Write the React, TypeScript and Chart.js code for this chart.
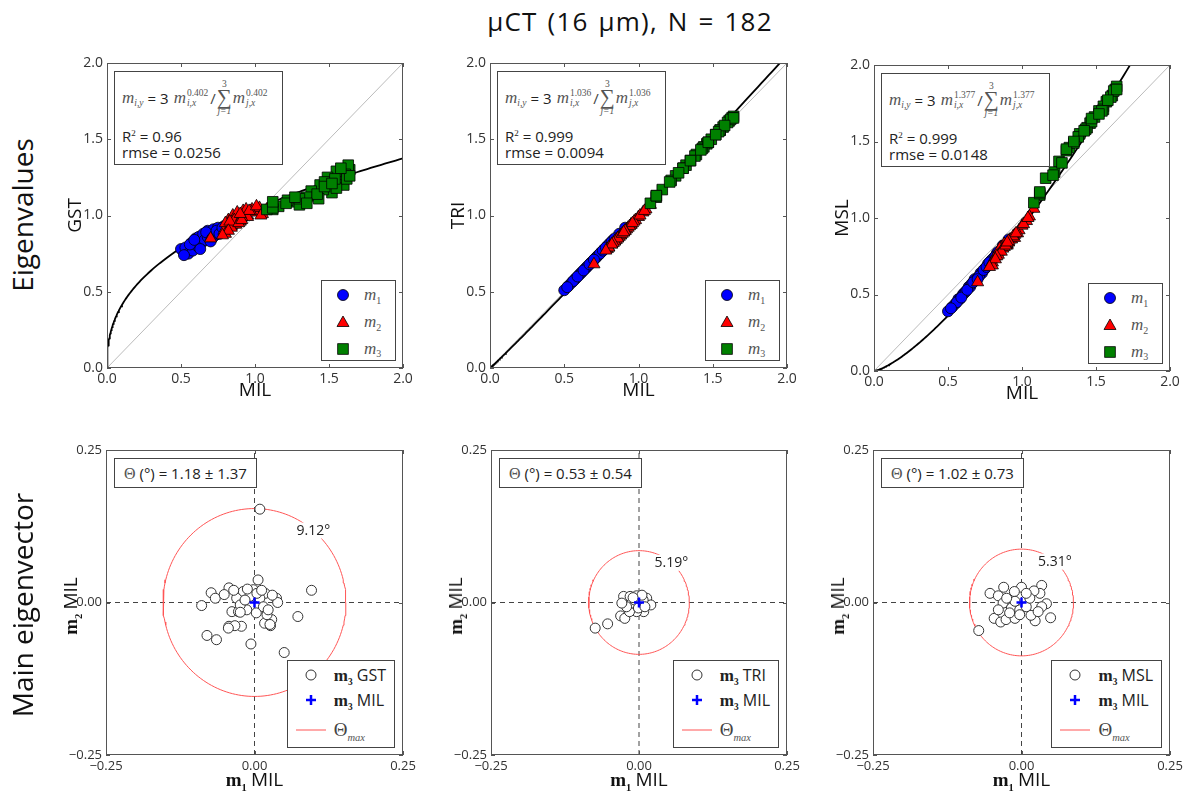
import React, { useEffect, useRef } from "react";
import { Chart, registerables } from "chart.js";
Chart.register(...registerables);

const SANS = '"Open Sans", "DejaVu Sans", sans-serif';
const SERIF = '"Liberation Serif", "DejaVu Serif", serif';

// ---------------- DATA ----------------
const TITLE = "μCT (16 μm), N = 182";
const ROW_LABELS = ["Eigenvalues", "Main eigenvector"];
const METHODS = ["GST", "TRI", "MSL"];
const REFERENCE = "MIL";
const EIG_TICKS = [0, 0.5, 1.0, 1.5, 2.0];
const VEC_TICKS = [-0.25, 0, 0.25];

// normalized MIL eigenvalues (x) of each sample
const MIL_M1 = [0.50,0.53,0.55,0.57,0.58,0.60,0.61,0.62,0.64,0.65,0.66,0.68,0.68,0.70,0.72,0.73,0.75,0.77,0.79,0.81,0.83,0.80,0.87,0.91,0.56,0.59,0.63,0.67,0.71,0.74,0.76,0.78,0.82,0.84,0.52,0.70];
const MIL_M2 = [0.86,0.84,0.88,0.82,0.90,0.85,0.79,0.92,0.87,0.80,0.95,0.88,0.70,0.98,0.90,0.84,1.00,0.93,0.86,1.03,0.95,1.08,1.05,0.97,0.80,0.94,0.83,0.91,0.82,0.96,0.89,1.01,0.91,1.04,0.90,0.78];
const MIL_M3 = [1.64,1.63,1.57,1.61,1.52,1.55,1.60,1.46,1.49,1.55,1.39,1.44,1.62,1.32,1.38,1.43,1.25,1.30,1.35,1.16,1.22,1.12,1.08,1.12,1.64,1.47,1.54,1.42,1.47,1.30,1.35,1.21,1.27,1.12,1.58,1.52];

const GST_M1 = [0.78,0.79,0.75,0.82,0.77,0.85,0.80,0.86,0.82,0.88,0.84,0.90,0.86,0.88,0.91,0.87,0.92,0.89,0.93,0.91,0.94,0.93,0.95,0.97,0.81,0.84,0.78,0.89,0.85,0.90,0.88,0.92,0.95,0.94,0.74,0.83];
const GST_M2 = [0.95,0.93,0.99,0.97,0.96,1.00,0.90,1.03,0.94,0.95,1.00,1.02,0.85,1.04,0.98,0.92,1.02,1.01,0.97,1.05,0.99,1.04,1.01,1.03,0.88,1.04,0.96,0.99,0.90,1.03,0.95,1.06,0.97,1.00,1.01,0.87];
const GST_M3 = [1.30,1.33,1.22,1.27,1.15,1.29,1.20,1.17,1.25,1.18,1.13,1.20,1.24,1.10,1.16,1.11,1.09,1.07,1.12,1.06,1.10,1.04,1.04,1.05,1.26,1.22,1.24,1.14,1.19,1.11,1.08,1.08,1.12,1.09,1.31,1.21];

const TRI_M1 = [0.51,0.54,0.56,0.58,0.59,0.61,0.62,0.63,0.65,0.66,0.67,0.69,0.69,0.71,0.73,0.74,0.76,0.78,0.80,0.82,0.84,0.81,0.88,0.92,0.57,0.60,0.64,0.68,0.72,0.75,0.77,0.79,0.83,0.85,0.53,0.71];
const TRI_M2 = [0.85,0.83,0.87,0.81,0.89,0.84,0.78,0.91,0.86,0.79,0.94,0.87,0.68,0.97,0.89,0.83,0.99,0.92,0.85,1.02,0.94,1.07,1.04,0.96,0.79,0.93,0.82,0.90,0.81,0.95,0.88,1.00,0.90,1.03,0.89,0.77];
const TRI_M3 = [1.65,1.64,1.58,1.62,1.53,1.56,1.61,1.47,1.50,1.56,1.40,1.45,1.63,1.33,1.39,1.44,1.26,1.31,1.36,1.17,1.23,1.12,1.08,1.13,1.64,1.48,1.55,1.43,1.48,1.31,1.36,1.22,1.28,1.13,1.59,1.53];

const MSL_M1 = [0.39,0.42,0.44,0.47,0.47,0.50,0.51,0.52,0.55,0.55,0.57,0.59,0.60,0.61,0.64,0.64,0.67,0.70,0.72,0.74,0.77,0.73,0.82,0.86,0.45,0.48,0.53,0.58,0.62,0.66,0.68,0.71,0.75,0.78,0.41,0.60];
const MSL_M2 = [0.81,0.78,0.83,0.75,0.82,0.80,0.70,0.86,0.80,0.71,0.89,0.81,0.58,0.92,0.83,0.76,0.95,0.86,0.78,0.98,0.87,1.06,1.01,0.90,0.69,0.88,0.75,0.84,0.73,0.90,0.82,0.96,0.85,1.00,0.84,0.68];
const MSL_M3 = [1.86,1.84,1.76,1.80,1.70,1.73,1.79,1.62,1.66,1.71,1.55,1.59,1.83,1.46,1.53,1.58,1.37,1.44,1.49,1.26,1.30,1.15,1.10,1.16,1.84,1.63,1.70,1.57,1.65,1.45,1.50,1.28,1.36,1.17,1.77,1.68];

// fitted power law  m_y = c * m_x^p
const FIT_EXPONENTS = [0.402, 1.036, 1.377];
const FIT_EXPONENT_LABELS = ["0.402", "1.036", "1.377"];
const FIT_SCALE = [1.04, 1.0, 0.94];
const R2 = ["0.96", "0.999", "0.999"];
const RMSE = ["0.0256", "0.0094", "0.0148"];

// main eigenvector m3 components in the MIL frame
const GST_VEC_X = [0.009,0.006,0.096,-0.043,-0.073,-0.066,-0.089,-0.051,0.073,-0.080,-0.064,-0.006,0.050,-0.043,-0.022,-0.033,0.017,0.027,0.029,0.037,0.039,0.018,-0.002,-0.019,-0.030,-0.038,-0.027,-0.013,0.003,0.021,-0.008,0.009,-0.024,0.015,0.023,0.026,-0.024,-0.044,-0.012,0.004,0.012,-0.035,0.030,-0.016];
const GST_VEC_Y = [0.153,0.037,0.020,0.024,0.016,0.007,-0.005,0.013,-0.023,-0.054,-0.061,-0.068,-0.082,-0.039,-0.039,-0.038,-0.034,-0.038,-0.028,0.007,0.000,0.015,0.021,0.018,0.007,-0.015,-0.015,-0.012,-0.017,-0.020,0.010,0.007,-0.004,-0.007,-0.012,-0.036,-0.016,-0.042,0.022,0.015,0.020,0.020,0.012,0.004];
const TRI_VEC_X = [-0.074,-0.053,-0.031,-0.024,-0.026,-0.015,-0.004,0.013,0.020,0.008,-0.004,-0.016,-0.012,0.002,-0.021,0.007,-0.007,-0.029,-0.001,0.010,0.005,-0.010];
const TRI_VEC_Y = [-0.042,-0.035,-0.022,-0.026,0.010,0.010,0.011,0.007,-0.004,-0.015,-0.015,-0.015,-0.001,-0.001,-0.007,0.004,0.004,-0.001,-0.009,-0.007,0.012,0.008];
const MSL_VEC_X = [-0.072,0.049,-0.053,-0.039,-0.030,0.000,0.034,0.031,0.021,-0.012,-0.046,-0.035,-0.026,-0.011,0.023,0.016,0.042,0.034,-0.031,-0.017,-0.003,0.008,0.014,-0.011,-0.025,0.008,0.028,-0.020,-0.003,-0.039];
const MSL_VEC_Y = [-0.046,-0.025,0.015,0.011,0.025,0.025,0.028,0.015,0.019,0.018,-0.026,-0.032,-0.028,-0.026,-0.030,-0.021,-0.002,-0.007,-0.001,-0.009,-0.012,-0.007,0.007,0.002,0.007,0.015,-0.015,-0.017,-0.020,-0.012];

const THETA_MEAN = ["1.18", "0.53", "1.02"];
const THETA_SD = ["1.37", "0.54", "0.73"];
const THETA_MAX_LABELS = ["9.12°", "5.19°", "5.31°"];
const THETA_MAX_RADIUS = [0.154, 0.085, 0.0875];

// ---------------- tables built from the data ----------------
const EIG_X = [MIL_M1, MIL_M2, MIL_M3];
const EIG_Y = [
  [GST_M1, GST_M2, GST_M3],
  [TRI_M1, TRI_M2, TRI_M3],
  [MSL_M1, MSL_M2, MSL_M3],
];
const VEC_X = [GST_VEC_X, TRI_VEC_X, MSL_VEC_X];
const VEC_Y = [GST_VEC_Y, TRI_VEC_Y, MSL_VEC_Y];

// ---------------- layout ----------------
type Area = { left: number; top: number; right: number; bottom: number };
const PAD = { l: 62, r: 16, t: 14, b: 40 };
const TOP_AREAS: Area[] = [
  { left: 107, top: 63, right: 403, bottom: 368 },
  { left: 490, top: 63, right: 787, bottom: 368 },
  { left: 874, top: 65, right: 1170, bottom: 371 },
];
const BOT_AREAS: Area[] = [
  { left: 106, top: 450, right: 403, bottom: 755 },
  { left: 491, top: 450, right: 787, bottom: 755 },
  { left: 873, top: 450, right: 1170, bottom: 755 },
];
const FRAME = "#555";
const MARKER_STYLES = [
  { style: "circle", radius: 5.5, color: "#0000ff" },
  { style: "triangle", radius: 7, color: "#ff0000" },
  { style: "rect", radius: 7.5, color: "#008000" },
];
const CIRCLE_RED = "#ff5555";

// ---------------- chart helpers ----------------
const framePlugin = {
  id: "frameTicks",
  afterDatasetsDraw(chart: any) {
    const { ctx, chartArea: a, scales } = chart;
    ctx.save();
    ctx.strokeStyle = FRAME;
    ctx.lineWidth = 1;
    const L = 4;
    const line = (x1: number, y1: number, x2: number, y2: number) => {
      ctx.beginPath();
      ctx.moveTo(x1, y1);
      ctx.lineTo(x2, y2);
      ctx.stroke();
    };
    scales.x.ticks.forEach((t: any) => {
      const px = Math.round(scales.x.getPixelForValue(t.value)) + 0.5;
      line(px, a.bottom, px, a.bottom - L);
      line(px, a.top, px, a.top + L);
    });
    scales.y.ticks.forEach((t: any) => {
      const py = Math.round(scales.y.getPixelForValue(t.value)) + 0.5;
      line(a.left, py, a.left + L, py);
      line(a.right, py, a.right - L, py);
    });
    ctx.strokeRect(a.left + 0.5, a.top + 0.5, a.right - a.left - 1, a.bottom - a.top - 1);
    ctx.restore();
  },
};

function thetaLabelPlugin(radius: number, text: string) {
  return {
    id: "thetaLabel",
    afterDatasetsDraw(chart: any) {
      const { ctx, scales } = chart;
      const ang = (50 * Math.PI) / 180;
      const px = scales.x.getPixelForValue(radius * Math.cos(ang));
      const py = scales.y.getPixelForValue(radius * Math.sin(ang));
      ctx.save();
      ctx.font = `14px ${SANS}`;
      const w = ctx.measureText(text).width;
      ctx.fillStyle = "#fff";
      ctx.fillRect(px - w / 2 - 3, py - 8, w + 6, 16);
      ctx.fillStyle = "#222";
      ctx.textAlign = "center";
      ctx.textBaseline = "middle";
      ctx.fillText(text, px, py);
      ctx.restore();
    },
  };
}

function axis(kind: "x" | "y", min: number, max: number, ticks: number[], fmt: (v: number) => string, size: number, title?: any) {
  return {
    type: "linear",
    min,
    max,
    position: kind === "x" ? "bottom" : "left",
    grid: { display: false, drawTicks: false, tickLength: 0 },
    border: { display: false },
    ticks: {
      font: { family: SANS, size },
      color: "#333",
      padding: kind === "x" ? 3 : 4,
      autoSkip: false,
      maxRotation: 0,
      callback: (v: any) => fmt(Number(v)),
    },
    afterBuildTicks: (s: any) => {
      s.ticks = ticks.map((value) => ({ value }));
    },
    afterFit: (s: any) => {
      if (kind === "x") s.height = PAD.b;
      else s.width = PAD.l;
    },
    title: title || { display: false },
  };
}

const fmt1 = (v: number) => v.toFixed(1);
const fmt2 = (v: number) => (v < 0 ? "−" : "") + Math.abs(v).toFixed(2);

function baseOptions(scales: any) {
  return {
    responsive: false,
    maintainAspectRatio: false,
    animation: false,
    devicePixelRatio: 1,
    events: [],
    layout: { padding: { top: PAD.t, right: PAD.r, left: 0, bottom: 0 } },
    plugins: { legend: { display: false }, tooltip: { enabled: false }, title: { display: false } },
    scales,
  };
}

function eigenConfig(k: number) {
  const n = 160;
  const fitX = Array.from({ length: n + 1 }, (_, i) => 2 * Math.pow(i / n, 2));
  const fit = fitX.map((x) => ({ x, y: FIT_SCALE[k] * Math.pow(x, FIT_EXPONENTS[k]) }));
  const pts = [0, 1, 2].map((e) => EIG_X[e].map((x, i) => ({ x, y: EIG_Y[k][e][i] })));
  const datasets: any[] = pts.map((data, e) => ({
    label: `m${e + 1}`,
    data,
    pointStyle: MARKER_STYLES[e].style,
    pointRadius: MARKER_STYLES[e].radius,
    backgroundColor: MARKER_STYLES[e].color,
    borderColor: "#000",
    borderWidth: 0.8,
    order: 3 - e,
  }));
  datasets.push({
    label: "fit",
    data: fit,
    showLine: true,
    borderColor: "#000",
    borderWidth: 1.8,
    pointRadius: 0,
    order: 4,
  });
  datasets.push({
    label: "1:1",
    data: [
      { x: 0, y: 0 },
      { x: 2, y: 2 },
    ],
    showLine: true,
    borderColor: "#bbbbbb",
    borderWidth: 1,
    pointRadius: 0,
    order: 5,
  });
  const lh = 19 * 1.2;
  const scales = {
    x: axis("x", 0, 2, EIG_TICKS, fmt1, 14, {
      display: true,
      text: REFERENCE,
      font: { family: SANS, size: 19 },
      color: "#111",
      padding: { top: 0, bottom: PAD.b - 23 - lh / 2 },
    }),
    y: axis("y", 0, 2, EIG_TICKS, fmt1, 14, {
      display: true,
      text: METHODS[k],
      font: { family: SANS, size: 19 },
      color: "#111",
      padding: { top: PAD.l - 31 - lh / 2, bottom: 0 },
    }),
  };
  return { type: "scatter", data: { datasets }, options: baseOptions(scales), plugins: [framePlugin] };
}

function vectorConfig(k: number) {
  const r = THETA_MAX_RADIUS[k];
  const circle = Array.from({ length: 181 }, (_, i) => {
    const a = (i * 2 * Math.PI) / 180;
    return { x: r * Math.cos(a), y: r * Math.sin(a) };
  });
  const datasets: any[] = [
    {
      label: `m3 ${REFERENCE}`,
      data: [{ x: 0, y: 0 }],
      pointStyle: "cross",
      pointRadius: 5,
      borderColor: "#0000ff",
      backgroundColor: "#0000ff",
      borderWidth: 2.5,
      order: 1,
    },
    {
      label: `m3 ${METHODS[k]}`,
      data: VEC_X[k].map((x, i) => ({ x, y: VEC_Y[k][i] })),
      pointStyle: "circle",
      pointRadius: 5,
      backgroundColor: "#ffffff",
      borderColor: "#333",
      borderWidth: 1,
      order: 2,
    },
    {
      label: "Θmax",
      data: circle,
      showLine: true,
      borderColor: CIRCLE_RED,
      borderWidth: 1,
      pointRadius: 0,
      order: 3,
    },
    {
      label: "h0",
      data: [
        { x: -0.25, y: 0 },
        { x: 0.25, y: 0 },
      ],
      showLine: true,
      borderColor: "#444",
      borderDash: [5, 4],
      borderWidth: 1,
      pointRadius: 0,
      order: 4,
    },
    {
      label: "v0",
      data: [
        { x: 0, y: -0.25 },
        { x: 0, y: 0.25 },
      ],
      showLine: true,
      borderColor: "#444",
      borderDash: [5, 4],
      borderWidth: 1,
      pointRadius: 0,
      order: 4,
    },
  ];
  const scales = {
    x: axis("x", -0.25, 0.25, VEC_TICKS, fmt2, 13),
    y: axis("y", -0.25, 0.25, VEC_TICKS, fmt2, 13),
  };
  return {
    type: "scatter",
    data: { datasets },
    options: baseOptions(scales),
    plugins: [framePlugin, thetaLabelPlugin(r, THETA_MAX_LABELS[k])],
  };
}

function ChartCanvas({ area, build }: { area: Area; build: () => any }) {
  const ref = useRef<HTMLCanvasElement | null>(null);
  useEffect(() => {
    if (!ref.current) return;
    const chart = new Chart(ref.current, build());
    return () => chart.destroy();
  }, []);
  const w = area.right - area.left + PAD.l + PAD.r;
  const h = area.bottom - area.top + PAD.t + PAD.b;
  return (
    <canvas
      ref={ref}
      width={w}
      height={h}
      style={{ position: "absolute", left: area.left - PAD.l, top: area.top - PAD.t, width: w, height: h, display: "block" }}
    />
  );
}

// ---------------- HTML annotations ----------------
const mathM: React.CSSProperties = { fontFamily: SERIF, fontStyle: "italic", fontSize: 17, color: "#555", lineHeight: "18px" };

function SupSub({ sup, sub }: { sup: string; sub: string }) {
  return (
    <span style={{ display: "inline-flex", flexDirection: "column", fontFamily: SERIF, fontSize: 9.5, lineHeight: "10px", color: "#555", marginLeft: 1 }}>
      <span>{sup}</span>
      <span style={{ fontStyle: "italic" }}>{sub}</span>
    </span>
  );
}

function SumSign() {
  return (
    <span style={{ display: "inline-flex", flexDirection: "column", alignItems: "center", fontFamily: SERIF, color: "#555", margin: "0 1px" }}>
      <span style={{ fontSize: 9.5, lineHeight: "10px" }}>3</span>
      <span style={{ fontSize: 21, lineHeight: "17px" }}>∑</span>
      <span style={{ fontSize: 9.5, lineHeight: "11px", fontStyle: "italic" }}>j=1</span>
    </span>
  );
}

function FormulaBox({ k, area }: { k: number; area: Area }) {
  const p = FIT_EXPONENT_LABELS[k];
  return (
    <div
      style={{
        position: "absolute",
        left: area.left + 7,
        top: area.top + 8,
        width: 169,
        height: 94,
        boxSizing: "border-box",
        border: "1px solid #444",
        background: "#fff",
        padding: "7px 0 0 7px",
        color: "#222",
        whiteSpace: "nowrap",
      }}
    >
      <div style={{ display: "flex", alignItems: "center", height: 38 }}>
        <span style={mathM}>m</span>
        <span style={{ fontFamily: SERIF, fontStyle: "italic", fontSize: 9.5, color: "#555", position: "relative", top: 5 }}>i,y</span>
        <span style={{ fontSize: 15, margin: "0 4px" }}>=</span>
        <span style={{ fontSize: 15 }}>3</span>
        <span style={{ ...mathM, marginLeft: 5 }}>m</span>
        <SupSub sup={p} sub="i,x" />
        <span style={{ fontSize: 15, marginLeft: 2, color: "#444" }}>/</span>
        <SumSign />
        <span style={mathM}>m</span>
        <SupSub sup={p} sub="j,x" />
      </div>
      <div style={{ fontSize: 15, lineHeight: "16px", marginTop: 8 }}>
        R<sup style={{ fontSize: 9, verticalAlign: "6px", fontFamily: SERIF }}>2</sup> = {R2[k]}
      </div>
      <div style={{ fontSize: 15, lineHeight: "16px" }}>rmse = {RMSE[k]}</div>
    </div>
  );
}

function EigMarker({ e }: { e: number }) {
  const c = MARKER_STYLES[e].color;
  return (
    <svg width={14} height={14} style={{ display: "block" }}>
      {e === 0 && <circle cx={7} cy={7} r={5.5} fill={c} stroke="#000" strokeWidth={0.8} />}
      {e === 1 && <polygon points="7,1 13,11.5 1,11.5" fill={c} stroke="#000" strokeWidth={0.8} />}
      {e === 2 && <rect x={1.7} y={1.7} width={10.6} height={10.6} fill={c} stroke="#000" strokeWidth={0.8} />}
    </svg>
  );
}

function EigLegend({ area }: { area: Area }) {
  const heights = [28, 26, 27];
  return (
    <div
      style={{
        position: "absolute",
        left: area.right - 7 - 75,
        top: area.bottom - 7 - 81,
        width: 75,
        height: 81,
        boxSizing: "border-box",
        border: "1px solid #444",
        background: "#fff",
      }}
    >
      {[0, 1, 2].map((e) => (
        <div key={e} style={{ display: "flex", alignItems: "center", height: heights[e] }}>
          <div style={{ width: 42, display: "flex", justifyContent: "center" }}>
            <EigMarker e={e} />
          </div>
          <span style={mathM}>m</span>
          <span style={{ fontFamily: SERIF, fontSize: 10, color: "#555", position: "relative", top: 5 }}>{e + 1}</span>
        </div>
      ))}
    </div>
  );
}

function BoldM({ sub, size = 17 }: { sub: string; size?: number }) {
  return (
    <span>
      <span style={{ fontFamily: SERIF, fontWeight: "bold", fontSize: size }}>m</span>
      <span style={{ fontFamily: SERIF, fontWeight: "bold", fontSize: size * 0.55, position: "relative", top: size * 0.25 }}>{sub}</span>
    </span>
  );
}

function StatBox({ k, area }: { k: number; area: Area }) {
  return (
    <div
      style={{
        position: "absolute",
        left: area.left + 8,
        top: area.top + 8,
        height: 30,
        boxSizing: "border-box",
        border: "1px solid #444",
        background: "#fff",
        padding: "0 9px",
        fontSize: 15,
        lineHeight: "28px",
        color: "#222",
        whiteSpace: "nowrap",
      }}
    >
      <span style={{ fontFamily: SERIF, fontSize: 16, color: "#555" }}>Θ</span> (°) = {THETA_MEAN[k]} ± {THETA_SD[k]}
    </div>
  );
}

function VecLegend({ k, area }: { k: number; area: Area }) {
  const heights = [28, 22, 38];
  const markers = [
    <svg width={14} height={14} style={{ display: "block" }}>
      <circle cx={7} cy={7} r={5} fill="#fff" stroke="#333" strokeWidth={1} />
    </svg>,
    <svg width={14} height={14} style={{ display: "block" }}>
      <line x1={7} y1={2} x2={7} y2={12} stroke="#0000ff" strokeWidth={2.5} />
      <line x1={2} y1={7} x2={12} y2={7} stroke="#0000ff" strokeWidth={2.5} />
    </svg>,
    <svg width={30} height={6} style={{ display: "block" }}>
      <line x1={0} y1={3} x2={30} y2={3} stroke={CIRCLE_RED} strokeWidth={1} />
    </svg>,
  ];
  const labels = [
    <span>
      <BoldM sub="3" size={17} /> <span style={{ fontSize: 16 }}>{METHODS[k]}</span>
    </span>,
    <span>
      <BoldM sub="3" size={17} /> <span style={{ fontSize: 16 }}>{REFERENCE}</span>
    </span>,
    <span>
      <span style={{ fontFamily: SERIF, fontSize: 19, color: "#444" }}>Θ</span>
      <span style={{ fontFamily: SERIF, fontStyle: "italic", fontSize: 10.5, color: "#555", position: "relative", top: 5 }}>max</span>
    </span>,
  ];
  return (
    <div
      style={{
        position: "absolute",
        right: 1191 - area.right + 8,
        bottom: 796 - area.bottom + 7,
        height: 88,
        boxSizing: "border-box",
        border: "1px solid #444",
        background: "#fff",
        paddingRight: 8,
        color: "#222",
        whiteSpace: "nowrap",
      }}
    >
      {[0, 1, 2].map((i) => (
        <div key={i} style={{ display: "flex", alignItems: "center", height: heights[i] }}>
          <div style={{ width: 46, display: "flex", justifyContent: "center" }}>{markers[i]}</div>
          {labels[i]}
        </div>
      ))}
    </div>
  );
}

function VecAxisTitles({ area }: { area: Area }) {
  const cx = (area.left + area.right) / 2;
  const cy = (area.top + area.bottom) / 2 + 3;
  return (
    <>
      <div style={{ position: "absolute", left: cx, top: area.bottom + 24, transform: "translate(-50%, -50%)", whiteSpace: "nowrap", color: "#111" }}>
        <BoldM sub="1" size={19} /> <span style={{ fontSize: 19 }}>{REFERENCE}</span>
      </div>
      <div
        style={{
          position: "absolute",
          left: area.left - 36,
          top: cy,
          transform: "translate(-50%, -50%) rotate(-90deg)",
          whiteSpace: "nowrap",
          color: "#111",
        }}
      >
        <BoldM sub="2" size={19} /> <span style={{ fontSize: 19 }}>{REFERENCE}</span>
      </div>
    </>
  );
}

export default function App() {
  return (
    <div
      style={{
        position: "absolute",
        left: 0,
        top: 0,
        width: 1191,
        height: 796,
        background: "#fff",
        overflow: "hidden",
        fontFamily: SANS,
        color: "#111",
      }}
    >
      {TOP_AREAS.map((a, k) => (
        <ChartCanvas key={"e" + k} area={a} build={() => eigenConfig(k)} />
      ))}
      {BOT_AREAS.map((a, k) => (
        <ChartCanvas key={"v" + k} area={a} build={() => vectorConfig(k)} />
      ))}
      {TOP_AREAS.map((a, k) => (
        <React.Fragment key={"eo" + k}>
          <FormulaBox k={k} area={a} />
          <EigLegend area={a} />
        </React.Fragment>
      ))}
      {BOT_AREAS.map((a, k) => (
        <React.Fragment key={"vo" + k}>
          <StatBox k={k} area={a} />
          <VecLegend k={k} area={a} />
          <VecAxisTitles area={a} />
        </React.Fragment>
      ))}
      <div
        style={{
          position: "absolute",
          left: 630,
          top: 21,
          transform: "translate(-50%, -50%)",
          fontSize: 26,
          letterSpacing: 1.2,
          wordSpacing: 2,
          whiteSpace: "nowrap",
        }}
      >
        {TITLE}
      </div>
      <div style={{ position: "absolute", left: 22, top: 215, transform: "translate(-50%, -50%) rotate(-90deg)", fontSize: 28, whiteSpace: "nowrap" }}>
        {ROW_LABELS[0]}
      </div>
      <div style={{ position: "absolute", left: 22, top: 605, transform: "translate(-50%, -50%) rotate(-90deg)", fontSize: 28, whiteSpace: "nowrap" }}>
        {ROW_LABELS[1]}
      </div>
    </div>
  );
}
